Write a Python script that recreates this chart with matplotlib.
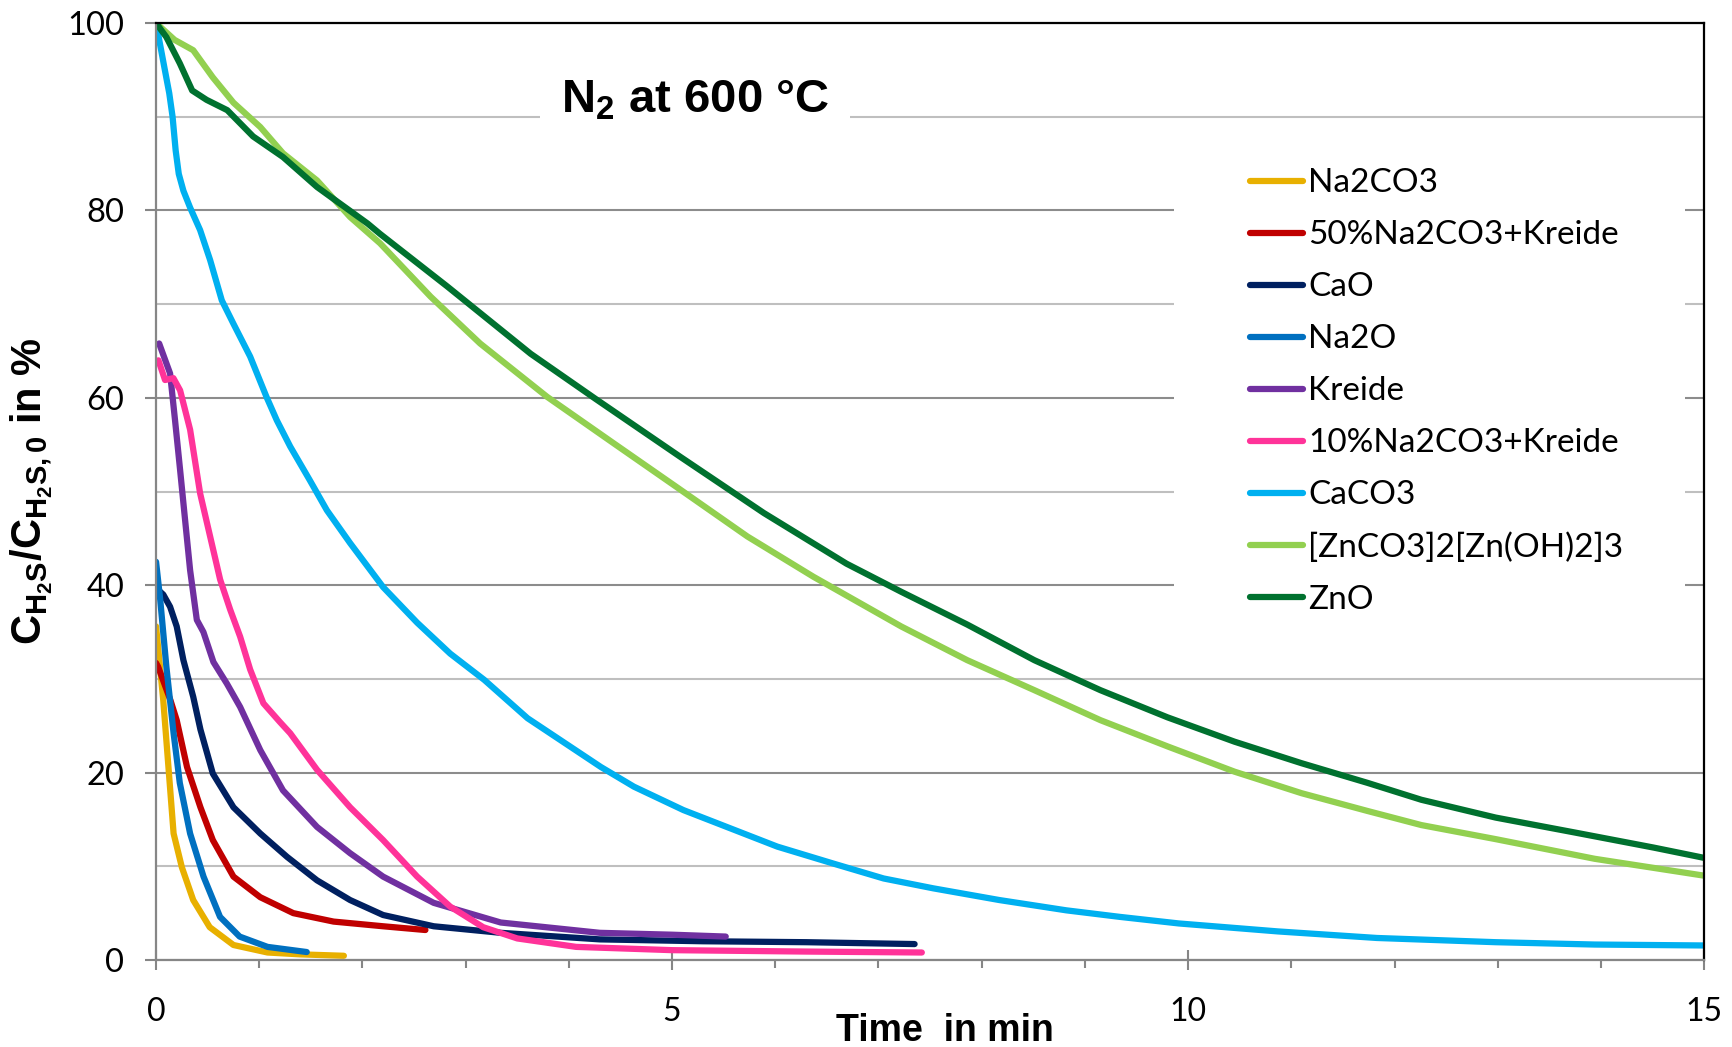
"""H2S-Abbau verschiedener Sorbentien in N2 bei 600 °C."""

import matplotlib
matplotlib.use("Agg")
import matplotlib.pyplot as plt
from matplotlib.patches import Rectangle
from matplotlib.ticker import MultipleLocator

# Messreihen: Zeit in min, C_H2S/C_H2S,0 in %
t_na2co3 = [0, 0.07, 0.12, 0.17, 0.25, 0.36, 0.52, 0.75, 1.08, 1.4, 1.82]
y_na2co3 = [35.6, 27.7, 20.6, 13.5, 9.9, 6.4, 3.5, 1.6, 0.8, 0.6, 0.45]

t_50na2co3 = [0, 0.02, 0.14, 0.2, 0.3, 0.43, 0.55, 0.75, 1.01, 1.33, 1.72, 2.2, 2.61]
y_50na2co3 = [31.7, 31.3, 27.7, 25.6, 20.6, 16.3, 12.8, 8.9, 6.7, 5.0, 4.1, 3.6, 3.2]

t_cao = [0.02, 0.07, 0.136, 0.2, 0.265, 0.36, 0.43, 0.55, 0.75, 1.01, 1.27, 1.56,
         1.88, 2.2, 2.69, 3.34, 4.3, 5.3, 6.3, 7.35]
y_cao = [39.5, 39.0, 37.7, 35.6, 32.0, 28.1, 24.6, 19.9, 16.3, 13.5, 11.0, 8.5,
         6.4, 4.8, 3.6, 2.9, 2.2, 2.0, 1.9, 1.7]

t_na2o = [0, 0.04, 0.1, 0.17, 0.23, 0.33, 0.46, 0.62, 0.81, 1.08, 1.46]
y_na2o = [42.5, 38.5, 31.3, 24.2, 18.9, 13.5, 8.9, 4.6, 2.5, 1.4, 0.85]

t_kreide = [0.03, 0.136, 0.184, 0.233, 0.281, 0.33, 0.395, 0.459, 0.556, 0.686, 0.815,
            1.01, 1.23, 1.56, 1.88, 2.2, 2.69, 3.34, 4.3, 5.0, 5.52]
y_kreide = [65.8, 62.6, 57.6, 52.3, 47.0, 41.6, 36.3, 35.0, 31.8, 29.5, 27.0,
            22.4, 18.1, 14.2, 11.4, 8.9, 6.1, 4.0, 2.9, 2.7, 2.5]

t_10na2co3 = [0.023, 0.087, 0.168, 0.233, 0.33, 0.427, 0.524, 0.621, 0.718, 0.815, 0.912,
              1.04, 1.2, 1.3, 1.56, 1.88, 2.2, 2.53, 2.85, 3.17, 3.5, 4.07, 5.0, 6.3, 7.42]
y_10na2co3 = [64.0, 61.9, 62.1, 60.8, 56.6, 49.8, 45.2, 40.6, 37.4, 34.5, 31.0,
              27.4, 25.4, 24.2, 20.3, 16.3, 12.8, 8.9, 5.7, 3.5, 2.3, 1.4, 1.05, 0.9, 0.8]

t_caco3 = [0, 0.08, 0.128, 0.16, 0.19, 0.22, 0.265, 0.33, 0.427, 0.524, 0.637, 0.75,
           0.912, 1.07, 1.17, 1.3, 1.49, 1.655, 1.88, 2.2, 2.53, 2.85, 3.18, 3.6, 4.31,
           4.63, 5.11, 5.6, 6.02, 6.56, 7.05, 7.53, 8.17, 8.82, 9.34, 9.91, 10.87,
           11.83, 12.98, 13.94, 15.0]
y_caco3 = [100, 95.3, 92.5, 90.0, 86.4, 83.9, 82.1, 80.3, 77.9, 74.7, 70.4, 67.9,
           64.4, 60.1, 57.6, 54.8, 51.2, 48.0, 44.5, 39.8, 36.0, 32.7, 29.9, 25.8, 20.6,
           18.5, 16.0, 13.9, 12.1, 10.3, 8.7, 7.65, 6.4, 5.3, 4.6, 3.9, 3.05,
           2.35, 1.9, 1.65, 1.55]

t_znmix = [0, 0.18, 0.36, 0.55, 0.75, 1.01, 1.23, 1.56, 1.88, 2.17, 2.66, 3.14, 3.79, 4.44,
           5.08, 5.73, 6.37, 7.22, 7.86, 8.51, 9.15, 9.8, 10.45, 11.1, 11.74, 12.26,
           12.98, 13.94, 15.0]
y_znmix = [100, 98.2, 97.1, 94.2, 91.5, 88.9, 86.1, 83.2, 79.3, 76.5, 70.8, 65.8, 60.1, 55.1,
           50.2, 45.2, 40.9, 35.6, 32.0, 28.8, 25.6, 22.8, 20.1, 17.8, 15.9, 14.4,
           12.9, 10.8, 9.0]

t_zno = [0, 0.1, 0.23, 0.35, 0.49, 0.69, 0.94, 1.23, 1.56, 2.05, 2.17, 2.82, 3.63, 4.27,
         5.08, 5.89, 6.69, 7.22, 7.86, 8.51, 9.15, 9.8, 10.45, 11.1, 11.74, 12.26,
         12.98, 13.75, 14.51, 15.0]
y_zno = [100, 98.5, 95.7, 92.8, 91.8, 90.7, 87.9, 85.7, 82.5, 78.6, 77.5, 71.9, 64.7, 59.8,
         53.7, 47.7, 42.3, 39.3, 35.8, 32.0, 28.8, 25.9, 23.3, 21.0, 18.9, 17.1,
         15.2, 13.6, 12.0, 10.9]

labels = ["Na2CO3", "50%Na2CO3+Kreide", "CaO", "Na2O", "Kreide",
          "10%Na2CO3+Kreide", "CaCO3", "[ZnCO3]2[Zn(OH)2]3", "ZnO"]
times = [t_na2co3, t_50na2co3, t_cao, t_na2o, t_kreide,
         t_10na2co3, t_caco3, t_znmix, t_zno]
values = [y_na2co3, y_50na2co3, y_cao, y_na2o, y_kreide,
          y_10na2co3, y_caco3, y_znmix, y_zno]
colors = ["#E8B000", "#C00000", "#002060", "#0070C0", "#7030A0",
          "#FF3399", "#00B0F0", "#92D050", "#00712F"]

plt.rcParams["mathtext.fontset"] = "custom"
plt.rcParams["mathtext.rm"] = "Liberation Sans"
plt.rcParams["mathtext.bf"] = "Liberation Sans:bold"
plt.rcParams["mathtext.it"] = "Liberation Sans:italic"

TICK_FONT = "Lato"
BOLD_FONT = "Liberation Sans"

fig = plt.figure(figsize=(17.32, 10.47), dpi=100)
ax = fig.add_axes([0.0901, 0.0831, 0.8938, 0.8949])
ax.set_axisbelow(True)

for t, y, c, lab in zip(times, values, colors, labels):
    ax.plot(t, y, color=c, lw=4.5, solid_capstyle="round",
            solid_joinstyle="round", label=lab)

ax.set_xlim(0, 15)
ax.set_ylim(0, 100)

# Achsen
ax.xaxis.set_major_locator(MultipleLocator(5))
ax.xaxis.set_minor_locator(MultipleLocator(1))
ax.yaxis.set_major_locator(MultipleLocator(20))
ax.yaxis.set_minor_locator(MultipleLocator(10))
ax.tick_params(axis="x", which="major", direction="inout", length=14, width=1.5,
               color="#868686", pad=20, labelsize=23)
ax.tick_params(axis="x", which="minor", direction="out", length=6, width=1.5,
               color="#868686")
ax.tick_params(axis="y", which="major", direction="out", length=8, width=1.5,
               color="#868686", pad=15, labelsize=23.5)
ax.tick_params(axis="y", which="minor", length=0)
for lab in ax.get_xticklabels() + ax.get_yticklabels():
    lab.set_fontfamily(TICK_FONT)

ax.grid(axis="y", which="major", color="#8C8C8C", lw=1.5)
ax.grid(axis="y", which="minor", color="#BFBFBF", lw=1.5)

ax.spines["left"].set_color("#868686")
ax.spines["bottom"].set_color("#868686")
ax.spines["top"].set_color("black")
ax.spines["right"].set_color("black")
for s in ax.spines.values():
    s.set_linewidth(1.6)

ax.set_xlabel("Time  in min", fontfamily=BOLD_FONT, fontweight="bold", fontsize=27)
ax.xaxis.set_label_coords(0.5097, -0.057)
ax.set_ylabel(r"$\mathbf{C_{H_2S}/C_{H_2S,0}}$ in %", fontfamily=BOLD_FONT,
              fontweight="bold", fontsize=30)
ax.yaxis.set_label_coords(-0.065, 0.5)

# Titel im Diagramm
ax.text(0.348, 0.917, r"N$_\mathbf{2}$ at 600 °C", transform=ax.transAxes,
        ha="center", va="center", fontfamily=BOLD_FONT, fontweight="bold",
        fontsize=34,
        bbox=dict(facecolor="white", edgecolor="none", boxstyle="square,pad=0.45"))

# weisser Hintergrund der Legende
ax.add_patch(Rectangle((0.6576, 0.352), 0.33, 0.539, transform=ax.transAxes,
                       facecolor="white", edgecolor="none", zorder=1))

ax.legend(loc="upper left", bbox_to_anchor=(0.7067, 0.845), frameon=False,
          prop={"family": TICK_FONT, "size": 24}, handlelength=1.6,
          handletextpad=0.15, labelspacing=0.66, borderpad=0, borderaxespad=0)

fig.savefig("out.png", dpi=100)
